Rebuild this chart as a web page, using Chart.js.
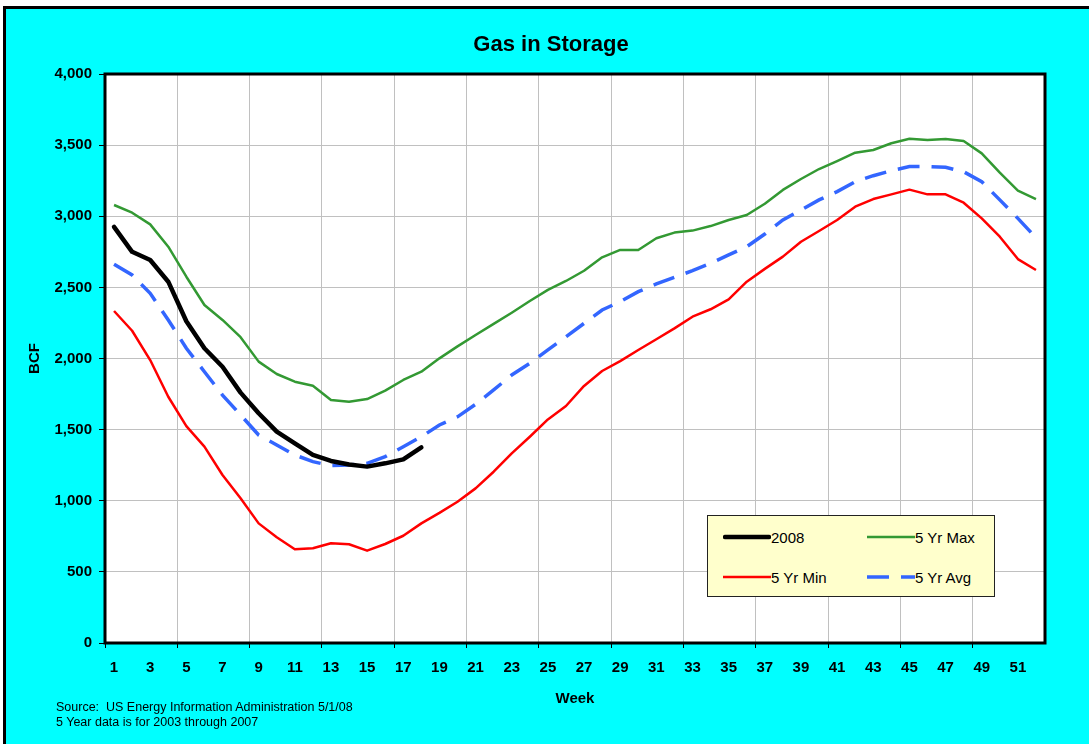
<!DOCTYPE html>
<html>
<head>
<meta charset="utf-8">
<title>Gas in Storage</title>
<script src="https://cdn.jsdelivr.net/npm/chart.js@4.4.1/dist/chart.umd.min.js"></script>
<style>
  html, body { margin: 0; padding: 0; background: #fff; overflow: hidden; }
  body { width: 1089px; height: 744px; position: relative; font-family: 'Liberation Sans', Arial, sans-serif; }
  #panel { position: absolute; left: 3px; top: 6px; width: 1100px; height: 760px; background: #00ffff; border: 3px solid #000; }
  #chart { position: absolute; left: 0; top: 0; }
  #legend {
    position: absolute; left: 707px; top: 515px; width: 286px; height: 79px;
    background: #ffffcc; border: 1.5px solid #222;
    display: grid; grid-template-columns: 144px 142px; grid-template-rows: 40px 40px;
    padding-top: 1px; box-sizing: content-box;
  }
  #legend .item { display: flex; align-items: center; padding-left: 15px; font-size: 15px; color: #000; }
  #legend svg { display: block; }
  #source { position: absolute; left: 56px; top: 700px; font-size: 12.5px; line-height: 14.5px; color: #000; }
</style>
</head>
<body>
<div id="panel"></div>
<canvas id="chart" width="1089" height="744"></canvas>
<div id="legend"></div>
<div id="source">Source:&nbsp; US Energy Information Administration 5/1/08<br>5 Year data is for 2003 through 2007</div>
<script>
const FONT = "'Liberation Sans', Arial, sans-serif"
const GRID = '#c0c0c0'

// Weeks of the year
const weeks = [1, 2, 3, 4, 5, 6, 7, 8, 9, 10, 11, 12, 13, 14, 15, 16, 17, 18, 19, 20, 21, 22, 23, 24, 25, 26,
  27, 28, 29, 30, 31, 32, 33, 34, 35, 36, 37, 38, 39, 40, 41, 42, 43, 44, 45, 46, 47, 48, 49, 50, 51, 52]

// BCF in storage
const gas2008 = [2925, 2750, 2692, 2540, 2262, 2072, 1942, 1760, 1615, 1486, 1404, 1322, 1280, 1255, 1240, 1263, 1291, 1375]
const max5yr = [3079, 3025, 2943, 2786, 2575, 2376, 2271, 2150, 1978, 1891, 1837, 1809, 1708, 1696, 1715, 1774, 1849, 1907,
  2001, 2085, 2165, 2243, 2322, 2404, 2482, 2545, 2617, 2711, 2763, 2763, 2845, 2885, 2899, 2931, 2974, 3009,
  3088, 3185, 3262, 3332, 3388, 3447, 3466, 3513, 3545, 3536, 3543, 3529, 3442, 3306, 3180, 3121]
const min5yr = [2334, 2195, 1989, 1731, 1525, 1380, 1181, 1017, 841, 743, 659, 666, 701, 694, 649, 696, 754, 841,
  915, 993, 1087, 1204, 1333, 1450, 1572, 1666, 1807, 1912, 1982, 2060, 2135, 2212, 2294, 2346, 2416, 2540,
  2630, 2716, 2821, 2896, 2974, 3067, 3121, 3154, 3187, 3154, 3154, 3095, 2985, 2856, 2699, 2622]
const avg5yr = [2662, 2587, 2458, 2271, 2072, 1907, 1743, 1603, 1462, 1392, 1322, 1275, 1247, 1251, 1263, 1310, 1380, 1450,
  1533, 1590, 1678, 1779, 1884, 1966, 2060, 2153, 2247, 2341, 2400, 2470, 2524, 2571, 2617, 2669, 2728, 2786,
  2875, 2974, 3044, 3115, 3173, 3243, 3285, 3320, 3349, 3349, 3344, 3313, 3243, 3115, 2985, 2849]

Chart.defaults.font.family = FONT
Chart.defaults.color = '#000'

// white plot area + heavy black frame
const plotFrame = {
  id: 'plotFrame',
  beforeDraw(chart) {
    const { ctx, chartArea: a } = chart
    ctx.save()
    ctx.fillStyle = '#fff'
    ctx.fillRect(a.left, a.top, a.right - a.left, a.bottom - a.top)
    ctx.restore()
  },
  afterDraw(chart) {
    const { ctx, chartArea: a } = chart
    ctx.save()
    ctx.strokeStyle = '#000'
    ctx.lineWidth = 3
    ctx.strokeRect(a.left, a.top, a.right - a.left, a.bottom - a.top)
    ctx.restore()
  },
}

const everyFourth = (on) => (c) => (c.index % 4 === 0 ? on : 'rgba(0,0,0,0)')

const chart = new Chart(document.getElementById('chart'), {
  type: 'line',
  data: {
    labels: weeks,
    datasets: [
      { label: '2008', data: gas2008, borderColor: '#000', borderWidth: 4.5, borderCapStyle: 'round', borderJoinStyle: 'round' },
      { label: '5 Yr Max', data: max5yr, borderColor: '#339933', borderWidth: 2.5, borderJoinStyle: 'round' },
      { label: '5 Yr Min', data: min5yr, borderColor: '#ff0000', borderWidth: 2.5, borderJoinStyle: 'round' },
      { label: '5 Yr Avg', data: avg5yr, borderColor: '#3366ff', borderWidth: 3.5, borderDash: [22, 12] },
    ],
  },
  options: {
    responsive: false,
    animation: false,
    elements: { point: { radius: 0 }, line: { tension: 0 } },
    layout: { padding: { top: 0, left: 13, right: 0, bottom: 0 } },
    scales: {
      x: {
        offset: true,
        afterFit: (s) => { s.height = 101 },
        border: { display: false },
        grid: { offset: true, color: everyFourth(GRID), tickColor: everyFourth('#000'), tickLength: 5, lineWidth: 1 },
        ticks: {
          autoSkip: false,
          maxRotation: 0,
          padding: 11,
          font: { size: 15, weight: 'bold' },
          callback: function (v, i) { return i % 2 === 0 ? this.getLabelForValue(v) : '' },
        },
        title: { display: true, text: 'Week', font: { size: 15, weight: 'bold' }, padding: { top: 0, bottom: 36 } },
      },
      y: {
        min: 0,
        max: 4000,
        afterFit: (s) => { s.width = 92 },
        border: { display: false },
        grid: { color: GRID, tickColor: '#000', tickLength: 6, lineWidth: 1 },
        ticks: {
          stepSize: 500,
          padding: 7,
          font: { size: 15, weight: 'bold' },
          callback: (v) => v.toLocaleString('en-US'),
        },
        title: { display: true, text: 'BCF', font: { size: 15, weight: 'bold' }, padding: { top: 13, bottom: 0 } },
      },
      // empty right margin strip, keeps the title centred like the original
      margin: {
        position: 'right',
        afterFit: (s) => { s.width = 44 },
        border: { display: false },
        grid: { display: false },
        ticks: { display: false },
      },
    },
    plugins: {
      legend: { display: false },
      tooltip: { enabled: false },
      title: {
        display: true,
        text: 'Gas in Storage',
        font: { size: 22, weight: 'bold' },
        color: '#000',
        padding: { top: 31.8, bottom: 15.8 },
      },
    },
  },
  plugins: [plotFrame],
})

// legend box built from the datasets
const legendEl = document.getElementById('legend')
chart.data.datasets.forEach((ds) => {
  const item = document.createElement('div')
  item.className = 'item'
  const dash = ds.borderDash ? ds.borderDash.join(' ') : 'none'
  const cap = ds.borderCapStyle === 'round' ? 'round' : 'butt'
  item.innerHTML =
    '<svg width="48" height="10"><line x1="' + (cap === 'round' ? 2 : 0) + '" y1="5" x2="' + (cap === 'round' ? 46 : 48) +
    '" y2="5" stroke="' + ds.borderColor + '" stroke-width="' + ds.borderWidth + '" stroke-linecap="' + cap +
    '" stroke-dasharray="' + dash + '"/></svg><span>' + ds.label + '</span>'
  legendEl.appendChild(item)
})
</script>
</body>
</html>
